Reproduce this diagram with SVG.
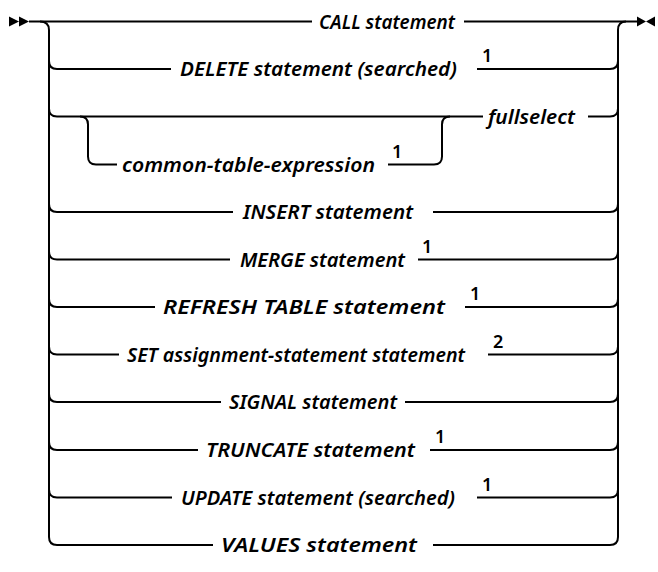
<svg xmlns="http://www.w3.org/2000/svg" width="658" height="572" viewBox="0 0 658 572">
<style>
.l{fill:none;stroke:#000;stroke-width:2;stroke-linecap:butt}
.t{font-family:"Noto Sans","Open Sans",sans-serif;font-style:italic;font-weight:600;font-size:19px;fill:#000}
.n{font-family:"Noto Sans","Open Sans",sans-serif;font-weight:600;font-size:18px;fill:#000}
.a{fill:#000}
</style>
<rect width="658" height="572" fill="#fff"/>
<g id="connectors">
<path class="a" d="M9,16.5 L19,21.5 L9,26.5 Z M19,16.5 L29,21.5 L19,26.5 Z"/>
<path class="a" d="M637,16.5 L646,21.5 L637,26.5 Z M655,16.5 L646,21.5 L655,26.5 Z"/>
<path class="l" d="M29,21.5 H312 M464,21.5 H637"/>
<path class="l" d="M40,21.5 Q49,21.5 49,30 V537 Q49,545 57,545"/>
<path class="l" d="M626,21.5 Q618,21.5 618,30 V537 Q618,545 610,545"/>
<path class="l" d="M49,61 Q49,69 57,69 H171 M477,69 H610 Q618,69 618,61"/>
<path class="l" d="M49,108.5 Q49,116.5 57,116.5 H483 M588,116.5 H610 Q618,116.5 618,108.5"/>
<path class="l" d="M80,116.5 Q88,116.5 88,124.5 V156.5 Q88,164.5 96,164.5 H117 M388,164.5 H434 Q442,164.5 442,156.5 V124.5 Q442,116.5 450,116.5"/>
<path class="l" d="M49,204 Q49,212 57,212 H233 M433,212 H610 Q618,212 618,204"/>
<path class="l" d="M49,251.5 Q49,259.5 57,259.5 H230 M418,259.5 H610 Q618,259.5 618,251.5"/>
<path class="l" d="M49,299 Q49,307 57,307 H155 M465,307 H610 Q618,307 618,299"/>
<path class="l" d="M49,346.5 Q49,354.5 57,354.5 H119 M488,354.5 H610 Q618,354.5 618,346.5"/>
<path class="l" d="M49,394 Q49,402 57,402 H221 M405,402 H610 Q618,402 618,394"/>
<path class="l" d="M49,442 Q49,450 57,450 H198 M430,450 H610 Q618,450 618,442"/>
<path class="l" d="M49,489.5 Q49,497.5 57,497.5 H172 M477,497.5 H610 Q618,497.5 618,489.5"/>
<path class="l" d="M57,545 H213 M433,545 H610"/>
</g>
<g id="call"><text class="t" x="319" y="28.5" textLength="136" lengthAdjust="spacingAndGlyphs">CALL statement</text></g>
<g id="delete"><text class="t" x="180" y="76" textLength="277" lengthAdjust="spacingAndGlyphs">DELETE statement (searched)</text><text class="n" x="482" y="62">1</text></g>
<g id="fullselect"><text class="t" x="488" y="123.5" textLength="87" lengthAdjust="spacingAndGlyphs">fullselect</text></g>
<g id="cte"><text class="t" x="122" y="171.5" textLength="253" lengthAdjust="spacingAndGlyphs">common-table-expression</text><text class="n" x="392" y="157.5">1</text></g>
<g id="insert"><text class="t" x="243" y="219" textLength="170" lengthAdjust="spacingAndGlyphs">INSERT statement</text></g>
<g id="merge"><text class="t" x="240" y="266.5" textLength="165" lengthAdjust="spacingAndGlyphs">MERGE statement</text><text class="n" x="422" y="252.5">1</text></g>
<g id="refresh"><text class="t" x="163" y="314" textLength="282" lengthAdjust="spacingAndGlyphs">REFRESH TABLE statement</text><text class="n" x="470" y="300">1</text></g>
<g id="set"><text class="t" x="127" y="361.5" textLength="338" lengthAdjust="spacingAndGlyphs">SET assignment-statement statement</text><text class="n" x="493" y="347.5">2</text></g>
<g id="signal"><text class="t" x="229" y="409" textLength="168" lengthAdjust="spacingAndGlyphs">SIGNAL statement</text></g>
<g id="truncate"><text class="t" x="206" y="457" textLength="209" lengthAdjust="spacingAndGlyphs">TRUNCATE statement</text><text class="n" x="435" y="443">1</text></g>
<g id="update"><text class="t" x="181" y="504.5" textLength="274" lengthAdjust="spacingAndGlyphs">UPDATE statement (searched)</text><text class="n" x="482" y="490.5">1</text></g>
<g id="values"><text class="t" x="221" y="552" textLength="196" lengthAdjust="spacingAndGlyphs">VALUES statement</text></g>
</svg>
